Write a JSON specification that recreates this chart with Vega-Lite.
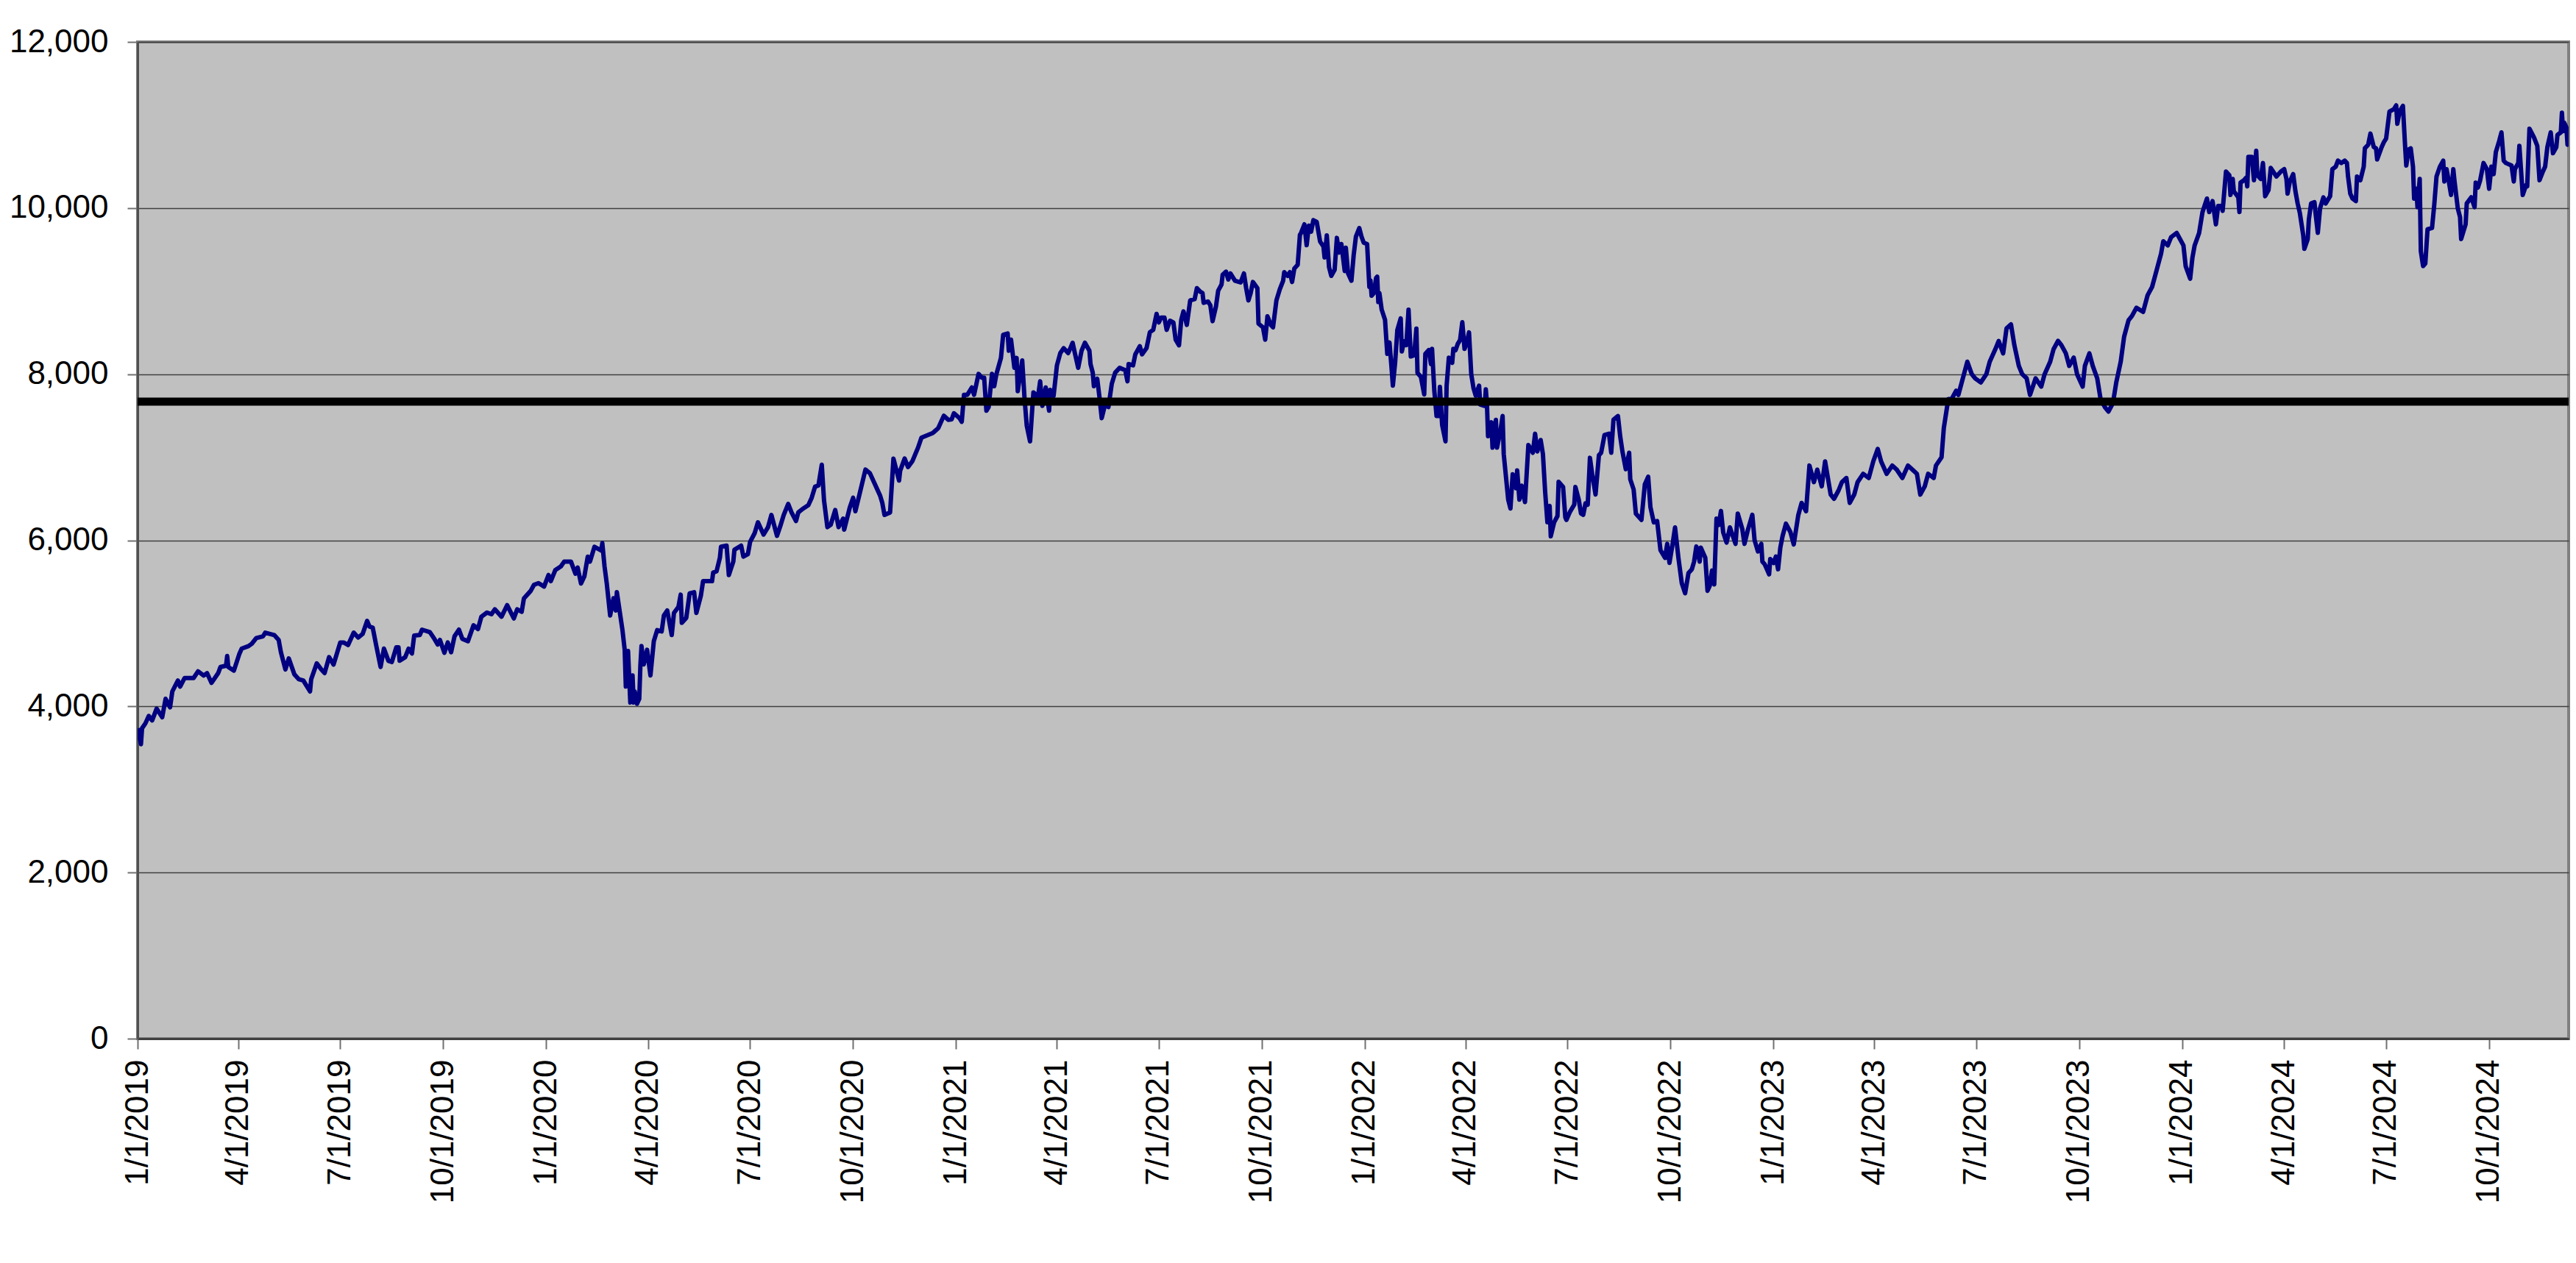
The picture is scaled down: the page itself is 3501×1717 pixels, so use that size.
{
  "$schema": "https://vega.github.io/schema/vega-lite/v6.json",
  "width": 3304,
  "height": 1355,
  "autosize": {"type": "none"},
  "padding": {"left": 187, "top": 57, "right": 10, "bottom": 305},
  "background": "#ffffff",
  "config": {
    "view": {"fill": "#C0C0C0", "stroke": "#808080", "strokeWidth": 4},
    "font": "Liberation Sans"
  },
  "datasets": {
    "series": [
      {"date":"2019-01-01","value":3737},{"date":"2019-01-04","value":3545},{"date":"2019-01-05","value":3737},{"date":"2019-01-08","value":3796},{"date":"2019-01-11","value":3885},{"date":"2019-01-14","value":3831},{"date":"2019-01-18","value":3973},{"date":"2019-01-23","value":3870},{"date":"2019-01-26","value":4091},{"date":"2019-01-30","value":3988},
      {"date":"2019-02-01","value":4180},{"date":"2019-02-06","value":4312},{"date":"2019-02-08","value":4239},{"date":"2019-02-12","value":4342},{"date":"2019-02-20","value":4342},{"date":"2019-02-24","value":4422},
      {"date":"2019-03-01","value":4371},{"date":"2019-03-04","value":4401},{"date":"2019-03-08","value":4283},{"date":"2019-03-14","value":4401},{"date":"2019-03-16","value":4475},{"date":"2019-03-21","value":4490},{"date":"2019-03-22","value":4608},{"date":"2019-03-23","value":4475},{"date":"2019-03-28","value":4431},
      {"date":"2019-04-02","value":4637},{"date":"2019-04-04","value":4696},{"date":"2019-04-10","value":4726},{"date":"2019-04-13","value":4755},{"date":"2019-04-17","value":4823},{"date":"2019-04-23","value":4844},{"date":"2019-04-25","value":4888},
      {"date":"2019-05-03","value":4859},{"date":"2019-05-07","value":4800},{"date":"2019-05-09","value":4652},{"date":"2019-05-13","value":4445},{"date":"2019-05-16","value":4578},{"date":"2019-05-21","value":4386},{"date":"2019-05-25","value":4327},{"date":"2019-05-29","value":4312},
      {"date":"2019-06-04","value":4180},{"date":"2019-06-05","value":4327},{"date":"2019-06-10","value":4519},{"date":"2019-06-14","value":4445},{"date":"2019-06-17","value":4401},{"date":"2019-06-21","value":4593},{"date":"2019-06-25","value":4504},
      {"date":"2019-07-01","value":4770},{"date":"2019-07-04","value":4770},{"date":"2019-07-08","value":4740},{"date":"2019-07-13","value":4888},{"date":"2019-07-17","value":4829},{"date":"2019-07-21","value":4873},{"date":"2019-07-25","value":5030},{"date":"2019-07-27","value":4962},{"date":"2019-07-30","value":4947},
      {"date":"2019-08-02","value":4740},{"date":"2019-08-06","value":4475},{"date":"2019-08-09","value":4696},{"date":"2019-08-13","value":4549},{"date":"2019-08-16","value":4534},{"date":"2019-08-20","value":4711},{"date":"2019-08-22","value":4711},{"date":"2019-08-23","value":4549},{"date":"2019-08-28","value":4593},{"date":"2019-08-31","value":4696},
      {"date":"2019-09-03","value":4637},{"date":"2019-09-05","value":4853},{"date":"2019-09-10","value":4859},{"date":"2019-09-12","value":4924},{"date":"2019-09-19","value":4894},{"date":"2019-09-23","value":4814},{"date":"2019-09-26","value":4746},{"date":"2019-09-28","value":4800},
      {"date":"2019-10-02","value":4646},{"date":"2019-10-05","value":4770},{"date":"2019-10-08","value":4652},{"date":"2019-10-11","value":4844},{"date":"2019-10-15","value":4924},{"date":"2019-10-18","value":4814},{"date":"2019-10-23","value":4785},{"date":"2019-10-28","value":4977},
      {"date":"2019-11-01","value":4932},{"date":"2019-11-04","value":5080},{"date":"2019-11-09","value":5130},{"date":"2019-11-13","value":5110},{"date":"2019-11-16","value":5169},{"date":"2019-11-22","value":5080},{"date":"2019-11-27","value":5219},
      {"date":"2019-12-03","value":5059},{"date":"2019-12-06","value":5169},{"date":"2019-12-10","value":5139},{"date":"2019-12-12","value":5301},{"date":"2019-12-18","value":5390},{"date":"2019-12-21","value":5464},{"date":"2019-12-25","value":5484},{"date":"2019-12-30","value":5443},
      {"date":"2020-01-03","value":5582},{"date":"2020-01-05","value":5508},{"date":"2020-01-09","value":5641},{"date":"2020-01-14","value":5685},{"date":"2020-01-17","value":5744},{"date":"2020-01-23","value":5744},{"date":"2020-01-27","value":5597},{"date":"2020-01-29","value":5671},
      {"date":"2020-02-01","value":5479},{"date":"2020-02-04","value":5567},{"date":"2020-02-07","value":5803},{"date":"2020-02-09","value":5744},{"date":"2020-02-13","value":5922},{"date":"2020-02-19","value":5877},{"date":"2020-02-20","value":5966},{"date":"2020-02-22","value":5685},{"date":"2020-02-24","value":5479},{"date":"2020-02-27","value":5095},
      {"date":"2020-03-01","value":5302},{"date":"2020-03-03","value":5154},{"date":"2020-03-04","value":5376},{"date":"2020-03-09","value":4918},{"date":"2020-03-11","value":4682},{"date":"2020-03-12","value":4239},{"date":"2020-03-14","value":4667},{"date":"2020-03-16","value":4047},{"date":"2020-03-18","value":4372},{"date":"2020-03-19","value":4047},{"date":"2020-03-20","value":4180},{"date":"2020-03-22","value":4032},{"date":"2020-03-24","value":4091},{"date":"2020-03-25","value":4490},{"date":"2020-03-26","value":4726},{"date":"2020-03-28","value":4505},{"date":"2020-03-31","value":4682},
      {"date":"2020-04-03","value":4372},{"date":"2020-04-06","value":4785},{"date":"2020-04-09","value":4918},{"date":"2020-04-13","value":4903},{"date":"2020-04-15","value":5095},{"date":"2020-04-18","value":5154},{"date":"2020-04-22","value":4859},{"date":"2020-04-24","value":5125},{"date":"2020-04-28","value":5198},{"date":"2020-04-30","value":5346},
      {"date":"2020-05-01","value":5007},{"date":"2020-05-05","value":5066},{"date":"2020-05-08","value":5361},{"date":"2020-05-12","value":5375},{"date":"2020-05-14","value":5125},{"date":"2020-05-18","value":5331},{"date":"2020-05-20","value":5508},{"date":"2020-05-28","value":5508},{"date":"2020-05-29","value":5612},
      {"date":"2020-06-01","value":5626},{"date":"2020-06-04","value":5789},{"date":"2020-06-05","value":5922},{"date":"2020-06-10","value":5936},{"date":"2020-06-12","value":5582},{"date":"2020-06-16","value":5744},{"date":"2020-06-17","value":5886},{"date":"2020-06-23","value":5936},{"date":"2020-06-25","value":5803},{"date":"2020-06-29","value":5833},
      {"date":"2020-07-01","value":5981},{"date":"2020-07-05","value":6084},{"date":"2020-07-08","value":6217},{"date":"2020-07-13","value":6069},{"date":"2020-07-17","value":6158},{"date":"2020-07-20","value":6305},{"date":"2020-07-25","value":6054},{"date":"2020-07-28","value":6172},{"date":"2020-07-31","value":6305},
      {"date":"2020-08-04","value":6438},{"date":"2020-08-07","value":6335},{"date":"2020-08-11","value":6232},{"date":"2020-08-13","value":6335},{"date":"2020-08-17","value":6379},{"date":"2020-08-22","value":6423},{"date":"2020-08-25","value":6512},{"date":"2020-08-28","value":6645},{"date":"2020-08-31","value":6660},
      {"date":"2020-09-03","value":6910},{"date":"2020-09-05","value":6482},{"date":"2020-09-08","value":6158},{"date":"2020-09-11","value":6187},{"date":"2020-09-15","value":6364},{"date":"2020-09-18","value":6158},{"date":"2020-09-22","value":6261},{"date":"2020-09-23","value":6128},{"date":"2020-09-28","value":6394},
      {"date":"2020-10-01","value":6512},{"date":"2020-10-03","value":6349},{"date":"2020-10-07","value":6571},{"date":"2020-10-12","value":6851},{"date":"2020-10-16","value":6807},{"date":"2020-10-20","value":6689},{"date":"2020-10-25","value":6541},{"date":"2020-10-27","value":6453},{"date":"2020-10-29","value":6305},
      {"date":"2020-11-03","value":6335},{"date":"2020-11-06","value":6984},{"date":"2020-11-11","value":6719},{"date":"2020-11-12","value":6837},{"date":"2020-11-16","value":6984},{"date":"2020-11-19","value":6881},{"date":"2020-11-23","value":6955},{"date":"2020-11-28","value":7117},
      {"date":"2020-12-01","value":7235},{"date":"2020-12-11","value":7290},{"date":"2020-12-16","value":7350},{"date":"2020-12-21","value":7500},{"date":"2020-12-25","value":7450},{"date":"2020-12-28","value":7457},{"date":"2020-12-30","value":7530},
      {"date":"2021-01-04","value":7471},{"date":"2021-01-06","value":7427},{"date":"2021-01-08","value":7752},{"date":"2021-01-11","value":7752},{"date":"2021-01-13","value":7796},{"date":"2021-01-15","value":7840},{"date":"2021-01-17","value":7752},{"date":"2021-01-21","value":8003},{"date":"2021-01-24","value":7958},{"date":"2021-01-26","value":7958},{"date":"2021-01-28","value":7560},{"date":"2021-01-30","value":7604},
      {"date":"2021-02-02","value":8003},{"date":"2021-02-04","value":7855},{"date":"2021-02-06","value":8003},{"date":"2021-02-10","value":8195},{"date":"2021-02-12","value":8475},{"date":"2021-02-16","value":8490},{"date":"2021-02-17","value":8283},{"date":"2021-02-19","value":8416},{"date":"2021-02-22","value":8077},{"date":"2021-02-24","value":8195},{"date":"2021-02-25","value":7796},
      {"date":"2021-03-01","value":8165},{"date":"2021-03-03","value":7722},{"date":"2021-03-05","value":7383},{"date":"2021-03-08","value":7191},{"date":"2021-03-10","value":7589},{"date":"2021-03-11","value":7781},{"date":"2021-03-15","value":7722},{"date":"2021-03-17","value":7914},{"date":"2021-03-19","value":7619},{"date":"2021-03-22","value":7840},{"date":"2021-03-25","value":7560},{"date":"2021-03-26","value":7811},{"date":"2021-03-29","value":7737},
      {"date":"2021-04-01","value":8106},{"date":"2021-04-04","value":8254},{"date":"2021-04-07","value":8313},{"date":"2021-04-11","value":8254},{"date":"2021-04-13","value":8313},{"date":"2021-04-15","value":8378},{"date":"2021-04-17","value":8254},{"date":"2021-04-20","value":8077},{"date":"2021-04-23","value":8283},{"date":"2021-04-26","value":8378},{"date":"2021-04-30","value":8283},
      {"date":"2021-05-01","value":8121},{"date":"2021-05-03","value":8018},{"date":"2021-05-04","value":7855},{"date":"2021-05-07","value":7944},{"date":"2021-05-09","value":7722},{"date":"2021-05-11","value":7471},{"date":"2021-05-14","value":7634},{"date":"2021-05-17","value":7604},{"date":"2021-05-20","value":7885},{"date":"2021-05-23","value":8018},{"date":"2021-05-27","value":8077},
      {"date":"2021-06-01","value":8047},{"date":"2021-06-03","value":7914},{"date":"2021-06-04","value":8121},{"date":"2021-06-08","value":8106},{"date":"2021-06-10","value":8239},{"date":"2021-06-14","value":8337},{"date":"2021-06-16","value":8239},{"date":"2021-06-20","value":8313},{"date":"2021-06-23","value":8505},{"date":"2021-06-26","value":8534},{"date":"2021-06-29","value":8726},
      {"date":"2021-07-01","value":8623},{"date":"2021-07-03","value":8682},{"date":"2021-07-06","value":8682},{"date":"2021-07-08","value":8534},{"date":"2021-07-11","value":8643},{"date":"2021-07-14","value":8623},{"date":"2021-07-16","value":8416},{"date":"2021-07-19","value":8348},{"date":"2021-07-21","value":8652},{"date":"2021-07-23","value":8756},{"date":"2021-07-26","value":8593},{"date":"2021-07-29","value":8888},
      {"date":"2021-08-02","value":8903},{"date":"2021-08-04","value":9036},{"date":"2021-08-07","value":8992},{"date":"2021-08-09","value":8977},{"date":"2021-08-10","value":8859},{"date":"2021-08-14","value":8874},{"date":"2021-08-16","value":8829},{"date":"2021-08-18","value":8638},{"date":"2021-08-21","value":8814},{"date":"2021-08-23","value":9006},{"date":"2021-08-26","value":9080},{"date":"2021-08-27","value":9198},{"date":"2021-08-30","value":9234},
      {"date":"2021-09-01","value":9139},{"date":"2021-09-03","value":9213},{"date":"2021-09-07","value":9125},{"date":"2021-09-12","value":9104},{"date":"2021-09-15","value":9213},{"date":"2021-09-17","value":9036},{"date":"2021-09-19","value":8888},{"date":"2021-09-21","value":8977},{"date":"2021-09-23","value":9110},{"date":"2021-09-27","value":9036},{"date":"2021-09-28","value":8608},
      {"date":"2021-10-02","value":8564},{"date":"2021-10-04","value":8416},{"date":"2021-10-06","value":8697},{"date":"2021-10-09","value":8593},{"date":"2021-10-11","value":8564},{"date":"2021-10-14","value":8888},{"date":"2021-10-17","value":9021},{"date":"2021-10-20","value":9125},{"date":"2021-10-21","value":9228},{"date":"2021-10-24","value":9184},{"date":"2021-10-26","value":9228},{"date":"2021-10-28","value":9110},{"date":"2021-10-30","value":9272},
      {"date":"2021-11-02","value":9316},{"date":"2021-11-04","value":9677},{"date":"2021-11-05","value":9700},{"date":"2021-11-08","value":9804},{"date":"2021-11-10","value":9553},{"date":"2021-11-12","value":9789},{"date":"2021-11-14","value":9715},{"date":"2021-11-16","value":9854},{"date":"2021-11-19","value":9833},{"date":"2021-11-22","value":9597},{"date":"2021-11-25","value":9538},{"date":"2021-11-26","value":9405},{"date":"2021-11-28","value":9671},{"date":"2021-11-30","value":9287},
      {"date":"2021-12-02","value":9184},{"date":"2021-12-05","value":9257},{"date":"2021-12-07","value":9641},{"date":"2021-12-09","value":9464},{"date":"2021-12-11","value":9567},{"date":"2021-12-14","value":9242},{"date":"2021-12-15","value":9523},{"date":"2021-12-17","value":9213},{"date":"2021-12-20","value":9125},{"date":"2021-12-22","value":9434},{"date":"2021-12-24","value":9656},{"date":"2021-12-27","value":9759},{"date":"2021-12-29","value":9656},{"date":"2021-12-31","value":9582},
      {"date":"2022-01-03","value":9567},{"date":"2022-01-05","value":9052},{"date":"2022-01-06","value":9128},{"date":"2022-01-07","value":8945},{"date":"2022-01-09","value":8975},{"date":"2022-01-11","value":9158},{"date":"2022-01-12","value":9174},{"date":"2022-01-13","value":8869},{"date":"2022-01-14","value":8975},{"date":"2022-01-16","value":8777},{"date":"2022-01-19","value":8655},{"date":"2022-01-21","value":8244},{"date":"2022-01-23","value":8381},{"date":"2022-01-25","value":8045},{"date":"2022-01-26","value":7862},{"date":"2022-01-28","value":8137},{"date":"2022-01-30","value":8533},
      {"date":"2022-02-02","value":8671},{"date":"2022-02-03","value":8274},{"date":"2022-02-05","value":8396},{"date":"2022-02-07","value":8350},{"date":"2022-02-09","value":8777},{"date":"2022-02-11","value":8213},{"date":"2022-02-14","value":8228},{"date":"2022-02-16","value":8548},{"date":"2022-02-17","value":8015},{"date":"2022-02-20","value":7969},{"date":"2022-02-23","value":7756},{"date":"2022-02-24","value":8244},{"date":"2022-02-27","value":8289},
      {"date":"2022-03-01","value":8122},{"date":"2022-03-02","value":8305},{"date":"2022-03-04","value":7801},{"date":"2022-03-06","value":7496},{"date":"2022-03-08","value":7496},{"date":"2022-03-09","value":7847},{"date":"2022-03-11","value":7390},{"date":"2022-03-14","value":7191},{"date":"2022-03-15","value":7862},{"date":"2022-03-17","value":8198},{"date":"2022-03-20","value":8137},{"date":"2022-03-21","value":8305},{"date":"2022-03-23","value":8289},{"date":"2022-03-25","value":8366},{"date":"2022-03-27","value":8411},{"date":"2022-03-29","value":8625},{"date":"2022-03-31","value":8305},
      {"date":"2022-04-02","value":8381},{"date":"2022-04-04","value":8503},{"date":"2022-04-06","value":8000},{"date":"2022-04-08","value":7832},{"date":"2022-04-10","value":7740},{"date":"2022-04-13","value":7862},{"date":"2022-04-14","value":7634},{"date":"2022-04-18","value":7618},{"date":"2022-04-19","value":7817},{"date":"2022-04-20","value":7649},{"date":"2022-04-21","value":7253},{"date":"2022-04-24","value":7420},{"date":"2022-04-25","value":7115},{"date":"2022-04-28","value":7451},{"date":"2022-04-29","value":7115},
      {"date":"2022-05-02","value":7313},{"date":"2022-05-04","value":7496},{"date":"2022-05-05","value":7039},{"date":"2022-05-09","value":6490},{"date":"2022-05-11","value":6383},{"date":"2022-05-13","value":6795},{"date":"2022-05-16","value":6627},{"date":"2022-05-17","value":6841},{"date":"2022-05-19","value":6490},{"date":"2022-05-21","value":6658},{"date":"2022-05-24","value":6460},{"date":"2022-05-27","value":7146},{"date":"2022-05-31","value":7054},
      {"date":"2022-06-02","value":7283},{"date":"2022-06-04","value":7070},{"date":"2022-06-07","value":7207},{"date":"2022-06-09","value":7039},{"date":"2022-06-11","value":6582},{"date":"2022-06-13","value":6216},{"date":"2022-06-15","value":6414},{"date":"2022-06-16","value":6048},{"date":"2022-06-19","value":6216},{"date":"2022-06-22","value":6292},{"date":"2022-06-23","value":6704},{"date":"2022-06-27","value":6643},{"date":"2022-06-29","value":6277},{"date":"2022-06-30","value":6246},
      {"date":"2022-07-03","value":6338},{"date":"2022-07-07","value":6429},{"date":"2022-07-08","value":6643},{"date":"2022-07-11","value":6490},{"date":"2022-07-13","value":6322},{"date":"2022-07-15","value":6307},{"date":"2022-07-17","value":6444},{"date":"2022-07-19","value":6429},{"date":"2022-07-21","value":6993},{"date":"2022-07-23","value":6795},{"date":"2022-07-26","value":6551},{"date":"2022-07-29","value":7024},{"date":"2022-07-31","value":7054},
      {"date":"2022-08-03","value":7268},{"date":"2022-08-07","value":7283},{"date":"2022-08-09","value":7054},{"date":"2022-08-11","value":7451},{"date":"2022-08-15","value":7496},{"date":"2022-08-17","value":7253},{"date":"2022-08-19","value":7070},{"date":"2022-08-22","value":6856},{"date":"2022-08-25","value":7054},{"date":"2022-08-26","value":6734},{"date":"2022-08-29","value":6612},{"date":"2022-08-31","value":6322},
      {"date":"2022-09-05","value":6246},{"date":"2022-09-08","value":6673},{"date":"2022-09-11","value":6765},{"date":"2022-09-13","value":6399},{"date":"2022-09-16","value":6216},{"date":"2022-09-19","value":6231},{"date":"2022-09-22","value":5880},{"date":"2022-09-26","value":5789},{"date":"2022-09-28","value":5957},{"date":"2022-09-30","value":5728},
      {"date":"2022-10-03","value":5972},{"date":"2022-10-05","value":6155},{"date":"2022-10-08","value":5789},{"date":"2022-10-11","value":5484},{"date":"2022-10-14","value":5362},{"date":"2022-10-17","value":5606},{"date":"2022-10-20","value":5651},{"date":"2022-10-22","value":5743},{"date":"2022-10-24","value":5926},{"date":"2022-10-27","value":5743},{"date":"2022-10-28","value":5911},
      {"date":"2022-11-01","value":5789},{"date":"2022-11-03","value":5392},{"date":"2022-11-05","value":5453},{"date":"2022-11-07","value":5636},{"date":"2022-11-09","value":5469},{"date":"2022-11-11","value":6261},{"date":"2022-11-13","value":6185},{"date":"2022-11-15","value":6353},{"date":"2022-11-17","value":6094},{"date":"2022-11-20","value":5972},{"date":"2022-11-23","value":6155},{"date":"2022-11-28","value":5957},{"date":"2022-11-30","value":6322},
      {"date":"2022-12-04","value":6139},{"date":"2022-12-06","value":5957},{"date":"2022-12-09","value":6124},{"date":"2022-12-13","value":6307},{"date":"2022-12-15","value":6002},{"date":"2022-12-18","value":5865},{"date":"2022-12-21","value":5957},{"date":"2022-12-22","value":5743},{"date":"2022-12-24","value":5713},{"date":"2022-12-28","value":5590},{"date":"2022-12-29","value":5774},
      {"date":"2023-01-01","value":5728},{"date":"2023-01-03","value":5804},{"date":"2023-01-05","value":5651},{"date":"2023-01-07","value":5911},{"date":"2023-01-09","value":6050},{"date":"2023-01-12","value":6200},{"date":"2023-01-16","value":6100},{"date":"2023-01-19","value":5950},{"date":"2023-01-23","value":6300},{"date":"2023-01-26","value":6450},{"date":"2023-01-30","value":6350},
      {"date":"2023-02-02","value":6900},{"date":"2023-02-06","value":6700},{"date":"2023-02-09","value":6850},{"date":"2023-02-13","value":6650},{"date":"2023-02-16","value":6950},{"date":"2023-02-21","value":6550},{"date":"2023-02-24","value":6500},{"date":"2023-02-28","value":6600},
      {"date":"2023-03-03","value":6700},{"date":"2023-03-07","value":6750},{"date":"2023-03-10","value":6450},{"date":"2023-03-14","value":6550},{"date":"2023-03-17","value":6700},{"date":"2023-03-22","value":6800},{"date":"2023-03-27","value":6750},{"date":"2023-03-31","value":6950},
      {"date":"2023-04-04","value":7100},{"date":"2023-04-07","value":6950},{"date":"2023-04-12","value":6800},{"date":"2023-04-17","value":6900},{"date":"2023-04-21","value":6850},{"date":"2023-04-26","value":6750},
      {"date":"2023-05-01","value":6900},{"date":"2023-05-05","value":6850},{"date":"2023-05-09","value":6800},{"date":"2023-05-12","value":6550},{"date":"2023-05-16","value":6650},{"date":"2023-05-19","value":6800},{"date":"2023-05-24","value":6750},{"date":"2023-05-26","value":6900},{"date":"2023-05-31","value":7000},
      {"date":"2023-06-02","value":7350},{"date":"2023-06-06","value":7700},{"date":"2023-06-09","value":7700},{"date":"2023-06-13","value":7800},{"date":"2023-06-15","value":7750},{"date":"2023-06-20","value":8000},{"date":"2023-06-23","value":8150},{"date":"2023-06-27","value":8000},{"date":"2023-06-30","value":7950},
      {"date":"2023-07-05","value":7900},{"date":"2023-07-10","value":8000},{"date":"2023-07-13","value":8150},{"date":"2023-07-18","value":8300},{"date":"2023-07-21","value":8400},{"date":"2023-07-25","value":8250},{"date":"2023-07-28","value":8550},
      {"date":"2023-08-01","value":8600},{"date":"2023-08-04","value":8350},{"date":"2023-08-08","value":8100},{"date":"2023-08-11","value":8000},{"date":"2023-08-15","value":7950},{"date":"2023-08-18","value":7750},{"date":"2023-08-23","value":7950},{"date":"2023-08-28","value":7850},{"date":"2023-08-31","value":8000},
      {"date":"2023-09-05","value":8150},{"date":"2023-09-08","value":8300},{"date":"2023-09-12","value":8400},{"date":"2023-09-15","value":8350},{"date":"2023-09-19","value":8250},{"date":"2023-09-22","value":8100},{"date":"2023-09-26","value":8200},{"date":"2023-09-29","value":8000},
      {"date":"2023-10-04","value":7850},{"date":"2023-10-06","value":8100},{"date":"2023-10-10","value":8250},{"date":"2023-10-13","value":8100},{"date":"2023-10-17","value":7950},{"date":"2023-10-20","value":7700},{"date":"2023-10-24","value":7600},{"date":"2023-10-27","value":7550},{"date":"2023-10-31","value":7650},
      {"date":"2023-11-03","value":7900},{"date":"2023-11-07","value":8150},{"date":"2023-11-10","value":8450},{"date":"2023-11-14","value":8650},{"date":"2023-11-17","value":8700},{"date":"2023-11-21","value":8800},{"date":"2023-11-27","value":8750},
      {"date":"2023-12-01","value":8950},{"date":"2023-12-05","value":9050},{"date":"2023-12-08","value":9200},{"date":"2023-12-13","value":9450},{"date":"2023-12-15","value":9600},{"date":"2023-12-19","value":9550},{"date":"2023-12-22","value":9650},{"date":"2023-12-27","value":9700},
      {"date":"2024-01-02","value":9550},{"date":"2024-01-04","value":9300},{"date":"2024-01-08","value":9150},{"date":"2024-01-10","value":9400},{"date":"2024-01-12","value":9550},{"date":"2024-01-16","value":9700},{"date":"2024-01-19","value":9950},{"date":"2024-01-23","value":10114},{"date":"2024-01-25","value":9952},{"date":"2024-01-28","value":10084},{"date":"2024-01-31","value":9804},
      {"date":"2024-02-02","value":10025},{"date":"2024-02-05","value":10025},{"date":"2024-02-06","value":9966},{"date":"2024-02-09","value":10439},{"date":"2024-02-12","value":10394},{"date":"2024-02-13","value":10158},{"date":"2024-02-15","value":10350},{"date":"2024-02-16","value":10203},{"date":"2024-02-20","value":10129},{"date":"2024-02-21","value":9952},{"date":"2024-02-22","value":10306},{"date":"2024-02-25","value":10335},{"date":"2024-02-27","value":10365},{"date":"2024-02-28","value":10261},{"date":"2024-02-29","value":10616},
      {"date":"2024-03-03","value":10616},{"date":"2024-03-05","value":10335},{"date":"2024-03-07","value":10690},{"date":"2024-03-08","value":10394},{"date":"2024-03-11","value":10350},{"date":"2024-03-13","value":10542},{"date":"2024-03-15","value":10143},{"date":"2024-03-18","value":10217},{"date":"2024-03-20","value":10483},{"date":"2024-03-25","value":10380},{"date":"2024-03-29","value":10439},
      {"date":"2024-04-01","value":10468},{"date":"2024-04-03","value":10350},{"date":"2024-04-04","value":10173},{"date":"2024-04-06","value":10320},{"date":"2024-04-09","value":10409},{"date":"2024-04-11","value":10203},{"date":"2024-04-13","value":10055},{"date":"2024-04-15","value":9937},{"date":"2024-04-18","value":9671},{"date":"2024-04-19","value":9509},{"date":"2024-04-22","value":9627},{"date":"2024-04-23","value":9863},{"date":"2024-04-25","value":10055},{"date":"2024-04-28","value":10070},{"date":"2024-04-29","value":9937},
      {"date":"2024-05-01","value":9701},{"date":"2024-05-03","value":9996},{"date":"2024-05-06","value":10129},{"date":"2024-05-08","value":10055},{"date":"2024-05-12","value":10143},{"date":"2024-05-14","value":10468},{"date":"2024-05-17","value":10498},{"date":"2024-05-19","value":10571},{"date":"2024-05-22","value":10542},{"date":"2024-05-25","value":10571},{"date":"2024-05-27","value":10542},{"date":"2024-05-28","value":10380},{"date":"2024-05-30","value":10173},
      {"date":"2024-06-01","value":10114},{"date":"2024-06-04","value":10084},{"date":"2024-06-05","value":10380},{"date":"2024-06-08","value":10335},{"date":"2024-06-11","value":10498},{"date":"2024-06-12","value":10719},{"date":"2024-06-15","value":10763},{"date":"2024-06-17","value":10896},{"date":"2024-06-20","value":10734},{"date":"2024-06-22","value":10719},{"date":"2024-06-23","value":10586},{"date":"2024-06-27","value":10734},{"date":"2024-06-29","value":10793},
      {"date":"2024-07-01","value":10837},{"date":"2024-07-04","value":11162},{"date":"2024-07-08","value":11191},{"date":"2024-07-10","value":11236},{"date":"2024-07-11","value":11014},{"date":"2024-07-13","value":11162},{"date":"2024-07-16","value":11230},{"date":"2024-07-18","value":10734},{"date":"2024-07-19","value":10512},{"date":"2024-07-21","value":10704},{"date":"2024-07-23","value":10719},{"date":"2024-07-25","value":10498},{"date":"2024-07-26","value":10114},{"date":"2024-07-28","value":10232},{"date":"2024-07-29","value":10011},{"date":"2024-07-31","value":10350},
      {"date":"2024-08-01","value":9479},{"date":"2024-08-03","value":9302},{"date":"2024-08-05","value":9332},{"date":"2024-08-07","value":9745},{"date":"2024-08-11","value":9760},{"date":"2024-08-13","value":10040},{"date":"2024-08-15","value":10380},{"date":"2024-08-18","value":10498},{"date":"2024-08-21","value":10571},{"date":"2024-08-22","value":10320},{"date":"2024-08-24","value":10468},{"date":"2024-08-26","value":10320},{"date":"2024-08-28","value":10158},{"date":"2024-08-30","value":10468},{"date":"2024-08-31","value":10335},
      {"date":"2024-09-03","value":9996},{"date":"2024-09-05","value":9893},{"date":"2024-09-06","value":9627},{"date":"2024-09-10","value":9804},{"date":"2024-09-11","value":10055},{"date":"2024-09-15","value":10129},{"date":"2024-09-18","value":10011},{"date":"2024-09-19","value":10306},{"date":"2024-09-21","value":10247},{"date":"2024-09-23","value":10335},{"date":"2024-09-26","value":10542},{"date":"2024-09-29","value":10468},
      {"date":"2024-10-01","value":10232},{"date":"2024-10-03","value":10498},{"date":"2024-10-05","value":10409},{"date":"2024-10-07","value":10675},{"date":"2024-10-10","value":10808},{"date":"2024-10-12","value":10911},{"date":"2024-10-14","value":10571},{"date":"2024-10-16","value":10542},{"date":"2024-10-21","value":10512},{"date":"2024-10-23","value":10320},{"date":"2024-10-24","value":10468},{"date":"2024-10-27","value":10542},{"date":"2024-10-28","value":10749},{"date":"2024-10-31","value":10158},
      {"date":"2024-11-03","value":10276},{"date":"2024-11-04","value":10261},{"date":"2024-11-06","value":10955},{"date":"2024-11-10","value":10852},{"date":"2024-11-13","value":10749},{"date":"2024-11-15","value":10335},{"date":"2024-11-18","value":10439},{"date":"2024-11-20","value":10498},{"date":"2024-11-22","value":10734},{"date":"2024-11-25","value":10911},{"date":"2024-11-27","value":10660},{"date":"2024-11-30","value":10734},
      {"date":"2024-12-01","value":10881},{"date":"2024-12-04","value":10911},{"date":"2024-12-05","value":11147},{"date":"2024-12-06","value":10926},{"date":"2024-12-07","value":11029},{"date":"2024-12-09","value":10970},{"date":"2024-12-10","value":10763},{"date":"2024-12-11","value":10955}
    ],
    "level": [{"level": 7670}]
  },
  "layer": [
    {
      "data": {"name": "series"},
      "mark": {"type": "line", "color": "#000080", "strokeWidth": 6, "strokeJoin": "round", "clip": true},
      "encoding": {
        "x": {
          "field": "date",
          "type": "temporal",
          "scale": {
            "type": "utc",
            "nice": false,
            "domain": [
              {"year": 2019, "month": 1, "date": 1, "utc": true},
              {"year": 2024, "month": 12, "date": 11, "utc": true}
            ]
          },
          "axis": {
            "title": null,
            "labelExpr": "utcFormat(datum.value, '%-m/%-d/%Y')",
            "values": [
              {"year": 2019, "month": 1, "date": 1, "utc": true},
              {"year": 2019, "month": 4, "date": 1, "utc": true},
              {"year": 2019, "month": 7, "date": 1, "utc": true},
              {"year": 2019, "month": 10, "date": 1, "utc": true},
              {"year": 2020, "month": 1, "date": 1, "utc": true},
              {"year": 2020, "month": 4, "date": 1, "utc": true},
              {"year": 2020, "month": 7, "date": 1, "utc": true},
              {"year": 2020, "month": 10, "date": 1, "utc": true},
              {"year": 2021, "month": 1, "date": 1, "utc": true},
              {"year": 2021, "month": 4, "date": 1, "utc": true},
              {"year": 2021, "month": 7, "date": 1, "utc": true},
              {"year": 2021, "month": 10, "date": 1, "utc": true},
              {"year": 2022, "month": 1, "date": 1, "utc": true},
              {"year": 2022, "month": 4, "date": 1, "utc": true},
              {"year": 2022, "month": 7, "date": 1, "utc": true},
              {"year": 2022, "month": 10, "date": 1, "utc": true},
              {"year": 2023, "month": 1, "date": 1, "utc": true},
              {"year": 2023, "month": 4, "date": 1, "utc": true},
              {"year": 2023, "month": 7, "date": 1, "utc": true},
              {"year": 2023, "month": 10, "date": 1, "utc": true},
              {"year": 2024, "month": 1, "date": 1, "utc": true},
              {"year": 2024, "month": 4, "date": 1, "utc": true},
              {"year": 2024, "month": 7, "date": 1, "utc": true},
              {"year": 2024, "month": 10, "date": 1, "utc": true}
            ],
            "labelAngle": -90,
            "labelAlign": "right",
            "labelBaseline": "middle",
            "labelFont": "Liberation Sans",
            "labelFontSize": 44,
            "labelColor": "#000000",
            "labelPadding": 14,
            "labelOverlap": false,
            "labelFlush": false,
            "labelLimit": 0,
            "tickSize": 14,
            "tickWidth": 2,
            "tickColor": "#707070",
            "domainColor": "#404040",
            "domainWidth": 3,
            "grid": false
          }
        },
        "y": {
          "field": "value",
          "type": "quantitative",
          "scale": {"domain": [0, 12000], "nice": false, "zero": true},
          "axis": {
            "title": null,
            "values": [0, 2000, 4000, 6000, 8000, 10000, 12000],
            "labelExpr": "format(datum.value, ',')",
            "labelFont": "Liberation Sans",
            "labelFontSize": 44,
            "labelColor": "#000000",
            "labelPadding": 26,
            "labelFlush": false,
            "labelOverlap": false,
            "labelLimit": 0,
            "tickSize": 14,
            "tickWidth": 2,
            "tickColor": "#707070",
            "domainColor": "#505050",
            "domainWidth": 3,
            "grid": true,
            "gridColor": "#404040",
            "gridWidth": 1.5
          }
        }
      }
    },
    {
      "data": {"name": "level"},
      "mark": {"type": "rule", "color": "#000000", "strokeWidth": 11},
      "encoding": {
        "y": {
          "field": "level",
          "type": "quantitative",
          "axis": {
            "title": null,
            "values": [0, 2000, 4000, 6000, 8000, 10000, 12000],
            "labelExpr": "format(datum.value, ',')",
            "labelFont": "Liberation Sans",
            "labelFontSize": 44,
            "labelColor": "#000000",
            "labelPadding": 26,
            "labelFlush": false,
            "labelOverlap": false,
            "labelLimit": 0,
            "tickSize": 14,
            "tickWidth": 2,
            "tickColor": "#707070",
            "domainColor": "#505050",
            "domainWidth": 3,
            "grid": true,
            "gridColor": "#404040",
            "gridWidth": 1.5
          }
        }
      }
    }
  ]
}
